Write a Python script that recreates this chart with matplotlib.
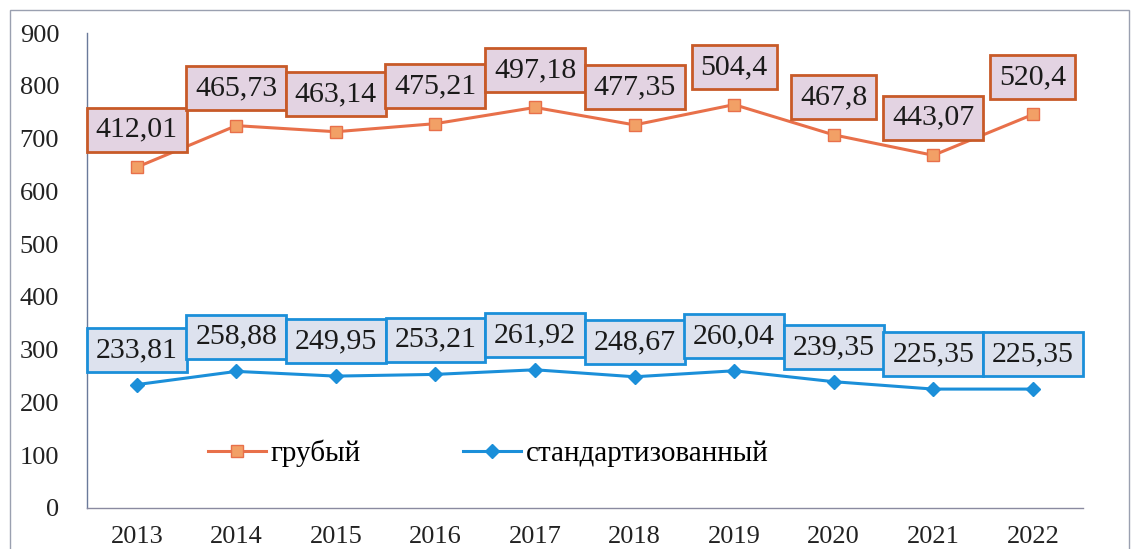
#!/usr/bin/env python3
"""Crude and standardized rates 2013-2022, stacked line chart with value boxes."""

import matplotlib.pyplot as plt
import numpy as np
from matplotlib.patches import Rectangle

years = ["2013", "2014", "2015", "2016", "2017", "2018", "2019", "2020", "2021", "2022"]
crude = [412.01, 465.73, 463.14, 475.21, 497.18, 477.35, 504.4, 467.8, 443.07, 520.4]
standardized = [233.81, 258.88, 249.95, 253.21, 261.92, 248.67, 260.04, 239.35, 225.35, 225.35]

ORANGE = "#e8704a"
ORANGE_MARK = "#f2a066"
BLUE = "#1b8fd9"


def fmt(v):
    return f"{v:g}".replace(".", ",")


def main() -> None:
    plt.rcParams["font.family"] = ["Liberation Serif", "DejaVu Serif"]

    fig = plt.figure(figsize=(11.34, 5.49), dpi=100)
    ax = fig.add_axes([0.0767, 0.0747, 0.878, 0.865])

    x = np.arange(len(years))
    std = np.array(standardized)
    # the chart is stacked: the crude line sits on top of the standardized one
    crude_top = std + np.array(crude)

    ax.plot(x, crude_top, color=ORANGE, linewidth=2.2, marker="s", markersize=8,
            markerfacecolor=ORANGE_MARK, markeredgecolor=ORANGE, label="грубый", zorder=3)
    ax.plot(x, std, color=BLUE, linewidth=2.2, marker="D", markersize=7,
            markerfacecolor=BLUE, markeredgecolor=BLUE, label="стандартизованный", zorder=3)

    for xi, yi, v in zip(x, crude_top, crude):
        ax.annotate(fmt(v), (xi, yi), xytext=(0, 27), textcoords="offset points",
                    ha="center", va="center", fontsize=21.5, color="#1a1a1a", zorder=4,
                    bbox=dict(boxstyle="square,pad=0.3", facecolor="#e3d3e2",
                              edgecolor="#c85a28", linewidth=2))
    for xi, yi, v in zip(x, std, standardized):
        ax.annotate(fmt(v), (xi, yi), xytext=(0, 25), textcoords="offset points",
                    ha="center", va="center", fontsize=21.5, color="#1a1a1a", zorder=4,
                    bbox=dict(boxstyle="square,pad=0.3", facecolor="#dde2ee",
                              edgecolor=BLUE, linewidth=2))

    ax.set_xlim(-0.5, len(years) - 0.5)
    ax.set_ylim(0, 900)
    ax.set_yticks(range(0, 901, 100))
    ax.set_xticks(x)
    ax.set_xticklabels(years)
    ax.tick_params(axis="both", length=0, labelsize=19, colors="#222222")
    ax.tick_params(axis="x", pad=13)
    ax.tick_params(axis="y", pad=20)

    for side in ("top", "right"):
        ax.spines[side].set_visible(False)
    ax.spines["left"].set_color("#6a7a9a")
    ax.spines["bottom"].set_color("#8a8aa0")
    ax.spines["left"].set_linewidth(1)
    ax.spines["bottom"].set_linewidth(1)

    ax.legend(loc="upper left", bbox_to_anchor=(0.095, 0.2), ncol=2, frameon=False,
              fontsize=21, handlelength=2.0, handletextpad=0.15, columnspacing=3.5)

    fig.patches.append(Rectangle((0.009, -0.05), 0.987, 1.032, transform=fig.transFigure,
                                 fill=False, edgecolor="#9aa0b0", linewidth=1))

    fig.savefig("out.png", dpi=100)
    plt.close(fig)


if __name__ == "__main__":
    main()
